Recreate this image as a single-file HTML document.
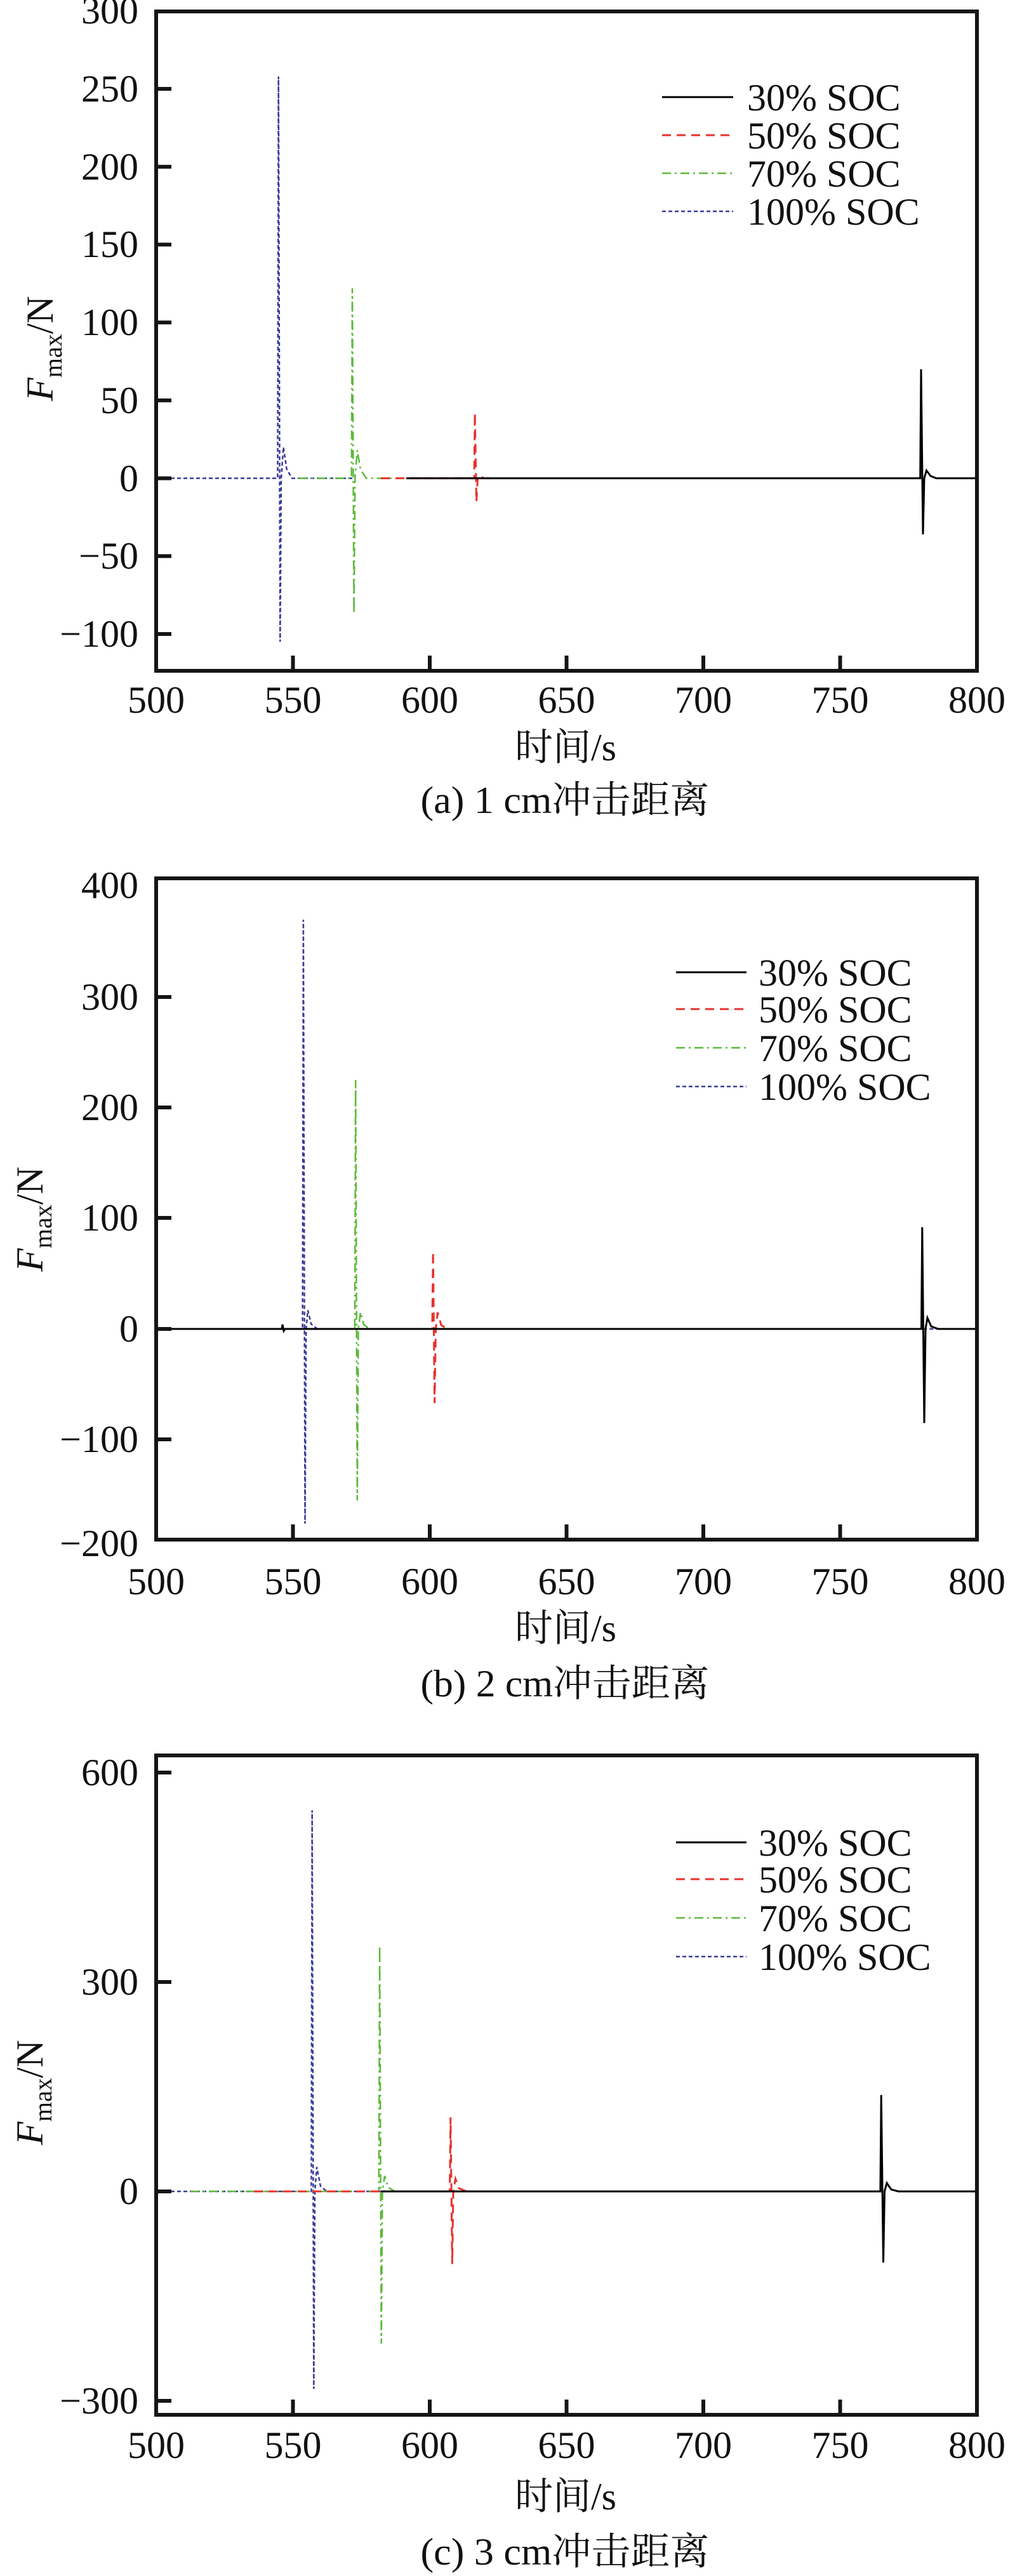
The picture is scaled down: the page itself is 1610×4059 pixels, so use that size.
<!DOCTYPE html>
<html><head><meta charset="utf-8"><style>
html,body{margin:0;padding:0;background:#fff}
svg{display:block}
text{font-family:"Liberation Serif","Noto Serif CJK SC","Noto Sans CJK SC",serif;fill:#111}
.t{font-size:60px}
.ax{stroke:#151515;stroke-width:6;fill:none}
.s0{stroke:#000;stroke-width:3;fill:none}
.s1{stroke:#e8322d;stroke-width:3;fill:none;stroke-dasharray:14,9}
.s2{stroke:#5cb83a;stroke-width:2.5;fill:none;stroke-dasharray:14,6,3,6}
.s3{stroke:#3a3a9a;stroke-width:2.5;fill:none;stroke-dasharray:6,4}
</style></head><body>
<svg width="1610" height="4059" viewBox="0 0 1610 4059" xmlns="http://www.w3.org/2000/svg">
<rect width="1610" height="4059" fill="#fff"/>

<!-- ============ Chart (a) ============ -->
<g>
<!-- series -->
<polyline class="s3" points="249,753.6 437.4,753.6 438.7,120.5 441.3,1011.3 443,753.6 446.5,704.5 451.6,739 460,753.6 560,753.6"/>
<polyline class="s2" points="470,753.6 553.7,753.6 555,454.2 557.6,967.1 559.3,753.6 562.8,709.4 568,740 577,753.6 620,753.6"/>
<polyline class="s1" points="600,753.6 747,753.6 748.1,650.5 750.5,790.4 752.5,753.6 756,748.7 762,753.6 780,753.6"/>
<polyline class="s0" points="640,753.6 1449.7,753.6 1451,581.8 1454,842 1456,753.6 1459.5,741.4 1466,750 1475,753.6 1536,753.6"/>
<!-- axes -->
<rect class="ax" x="246" y="18" width="1293" height="1039"/>
<path class="ax" d="M249 140H270M249 262.7H270M249 385.4H270M249 508.1H270M249 630.9H270M249 753.6H270M249 876.3H270M249 999H270"/>
<path class="ax" d="M461.5 1054V1033M677 1054V1033M892.5 1054V1033M1108 1054V1033M1323.5 1054V1033"/>
<g class="t" text-anchor="end">
<text x="218" y="37">300</text><text x="218" y="160">250</text><text x="218" y="283">200</text>
<text x="218" y="405">150</text><text x="218" y="528">100</text><text x="218" y="651">50</text>
<text x="218" y="774">0</text><text x="218" y="896">−50</text><text x="218" y="1019">−100</text>
</g>
<g class="t" text-anchor="middle">
<text x="246" y="1123">500</text><text x="461.5" y="1123">550</text><text x="677" y="1123">600</text>
<text x="892.5" y="1123">650</text><text x="1108" y="1123">700</text><text x="1323.5" y="1123">750</text><text x="1539" y="1123">800</text>
<text x="891" y="1198">时间/s</text>
<text x="890" y="1281" textLength="455" lengthAdjust="spacingAndGlyphs">(a) 1 cm冲击距离</text>
</g>
<text class="t" transform="translate(83,549) rotate(-90)" text-anchor="middle"><tspan font-style="italic">F</tspan><tspan font-size="40" dy="14">max</tspan><tspan dy="-14">/N</tspan></text>
<!-- legend -->
<line class="s0" x1="1043" y1="153" x2="1155" y2="153"/>
<line class="s1" x1="1043" y1="213" x2="1155" y2="213"/>
<line class="s2" x1="1043" y1="273" x2="1155" y2="273"/>
<line class="s3" x1="1043" y1="333" x2="1155" y2="333"/>
<g class="t"><text x="1177" y="174">30% SOC</text><text x="1177" y="234">50% SOC</text><text x="1177" y="294">70% SOC</text><text x="1177" y="354">100% SOC</text></g>
</g>

<!-- ============ Chart (b) ============ -->
<g>
<polyline class="s3" points="249,2094 476.6,2094 477.9,1449.1 480.5,2400.8 482.2,2094 485,2064.4 490,2086 500,2094 1536,2094"/>
<polyline class="s2" points="300,2094 558.9,2094 560.2,1701.8 562.8,2364.2 564.5,2094 568,2067.9 573,2087 582,2094 640,2094"/>
<polyline class="s1" points="600,2094 680.9,2094 682.2,1972 684.6,2210.8 686.5,2094 689.5,2067.9 695,2088 705,2094 760,2094"/>
<polyline class="s0" points="249,2094 444,2094 445,2087 447,2097 449,2094 1451.5,2094 1452.8,1933.6 1456,2242.2 1458,2094 1461,2076.6 1467,2090 1478,2094 1536,2094"/>
<rect class="ax" x="246" y="1384" width="1293" height="1042"/>
<path class="ax" d="M249 1571H270M249 1745H270M249 1919H270M249 2094H270M249 2268H270"/>
<path class="ax" d="M461.5 2423V2402M677 2423V2402M892.5 2423V2402M1108 2423V2402M1323.5 2423V2402"/>
<g class="t" text-anchor="end">
<text x="218" y="1415">400</text><text x="218" y="1591">300</text><text x="218" y="1765">200</text>
<text x="218" y="1939">100</text><text x="218" y="2114">0</text><text x="218" y="2288">−100</text><text x="218" y="2452">−200</text>
</g>
<g class="t" text-anchor="middle">
<text x="246" y="2512">500</text><text x="461.5" y="2512">550</text><text x="677" y="2512">600</text>
<text x="892.5" y="2512">650</text><text x="1108" y="2512">700</text><text x="1323.5" y="2512">750</text><text x="1539" y="2512">800</text>
<text x="891" y="2586">时间/s</text>
<text x="890" y="2673" textLength="455" lengthAdjust="spacingAndGlyphs">(b) 2 cm冲击距离</text>
</g>
<text class="t" transform="translate(67,1921) rotate(-90)" text-anchor="middle"><tspan font-style="italic">F</tspan><tspan font-size="40" dy="14">max</tspan><tspan dy="-14">/N</tspan></text>
<line class="s0" x1="1065" y1="1532" x2="1176" y2="1532"/>
<line class="s1" x1="1065" y1="1590" x2="1176" y2="1590"/>
<line class="s2" x1="1065" y1="1651" x2="1176" y2="1651"/>
<line class="s3" x1="1065" y1="1712" x2="1176" y2="1712"/>
<g class="t"><text x="1195" y="1553">30% SOC</text><text x="1195" y="1611">50% SOC</text><text x="1195" y="1672">70% SOC</text><text x="1195" y="1733">100% SOC</text></g>
</g>

<!-- ============ Chart (c) ============ -->
<g>
<polyline class="s3" points="249,3453 490.4,3453 491.7,2852.4 494.3,3764.3 496,3453 499,3414.5 505,3445 515,3453 620,3453"/>
<polyline class="s2" points="300,3453 596.8,3453 598.1,3065.8 600.7,3692.8 602.4,3453 606,3428.8 612,3447 622,3453 700,3453"/>
<polyline class="s1" points="400,3453 708.5,3453 709.8,3336.4 712.4,3567.4 714,3453 717.5,3433.2 723,3448 735,3453 780,3453"/>
<polyline class="s0" points="600,3453 1386.9,3453 1388.2,3301.2 1391.5,3565.2 1393.5,3453 1397,3439.8 1404,3450 1415,3453 1536,3453"/>
<rect class="ax" x="246" y="2766" width="1293" height="1039"/>
<path class="ax" d="M249 2793H270M249 3123H270M249 3453H270M249 3783H270"/>
<path class="ax" d="M461.5 3802V3781M677 3802V3781M892.5 3802V3781M1108 3802V3781M1323.5 3802V3781"/>
<g class="t" text-anchor="end">
<text x="218" y="2813">600</text><text x="218" y="3143">300</text><text x="218" y="3473">0</text><text x="218" y="3803">−300</text>
</g>
<g class="t" text-anchor="middle">
<text x="246" y="3873">500</text><text x="461.5" y="3873">550</text><text x="677" y="3873">600</text>
<text x="892.5" y="3873">650</text><text x="1108" y="3873">700</text><text x="1323.5" y="3873">750</text><text x="1539" y="3873">800</text>
<text x="891" y="3954">时间/s</text>
<text x="890" y="4041" textLength="455" lengthAdjust="spacingAndGlyphs">(c) 3 cm冲击距离</text>
</g>
<text class="t" transform="translate(67,3297) rotate(-90)" text-anchor="middle"><tspan font-style="italic">F</tspan><tspan font-size="40" dy="14">max</tspan><tspan dy="-14">/N</tspan></text>
<line class="s0" x1="1065" y1="2903" x2="1176" y2="2903"/>
<line class="s1" x1="1065" y1="2961" x2="1176" y2="2961"/>
<line class="s2" x1="1065" y1="3022" x2="1176" y2="3022"/>
<line class="s3" x1="1065" y1="3083" x2="1176" y2="3083"/>
<g class="t"><text x="1195" y="2924">30% SOC</text><text x="1195" y="2982">50% SOC</text><text x="1195" y="3043">70% SOC</text><text x="1195" y="3104">100% SOC</text></g>
</g>
</svg>
</body></html>
